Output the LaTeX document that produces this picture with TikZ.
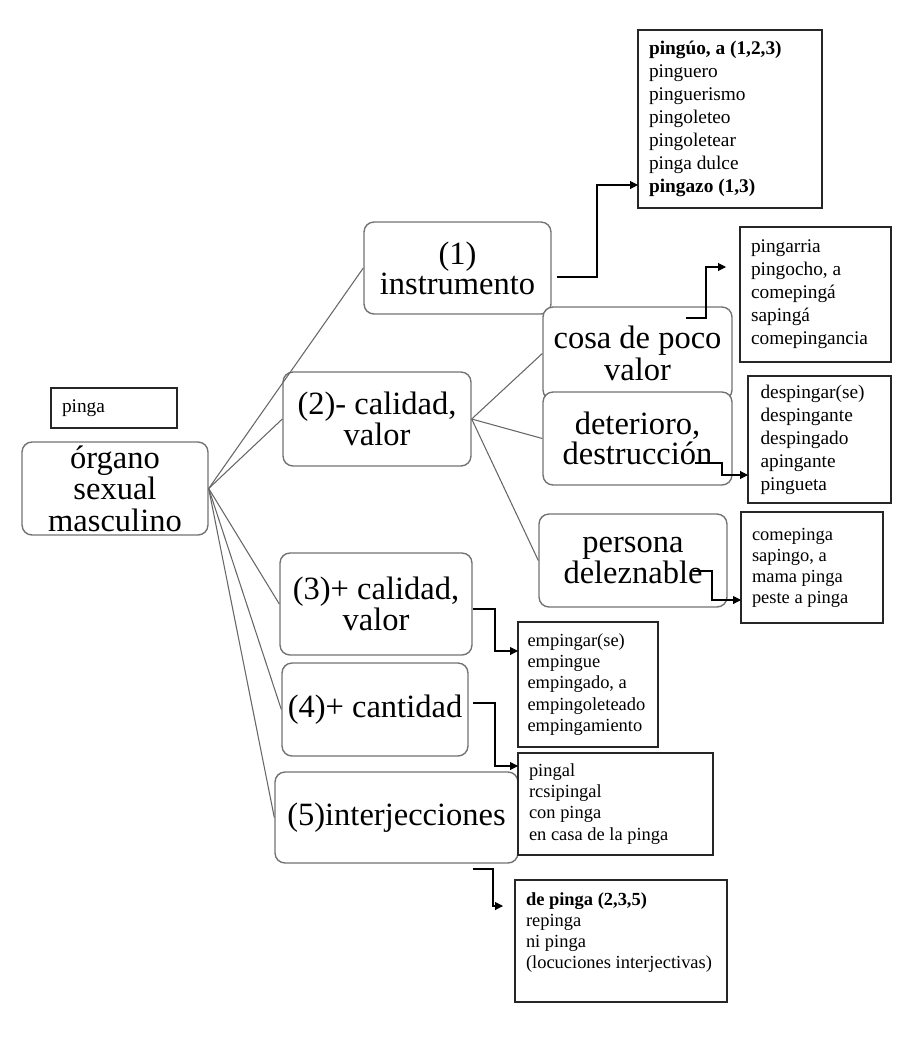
\documentclass[tikz,border=0pt]{standalone}
\usepackage{fontspec}
\setmainfont{Liberation Serif}
\usetikzlibrary{arrows.meta}

\tikzset{
  sense/.style={draw=black!55, line width=0.8pt, rounded corners=0.2cm, fill=white,
    align=center, inner sep=1pt, font=\fontsize{18.5}{18}\selectfont},
  words/.style={draw=black!85, line width=0.7pt, fill=white, align=left,
    inner xsep=0.22cm, inner ysep=0pt, font=\fontsize{11}{13.1}\selectfont,
    execute at begin node={\spaceskip=0pt\xspaceskip=0pt}},
  small words/.style={words, font=\fontsize{10.5}{12}\selectfont},
  link/.style={draw=black!60, line width=0.6pt},
  elbow/.style={->, >={Triangle[length=4.5pt,width=4.5pt]}, line width=0.6pt},
}

\begin{document}
\begin{tikzpicture}[x=0.02cm, y=-0.02cm]
\useasboundingbox (0,0) rectangle (900,1052);

% central meaning
\node[sense, minimum width=3.72cm, minimum height=1.86cm] (root) at (115,488.5) {órgano\\sexual\\masculino};
\node[words, minimum width=2.52cm, minimum height=0.8cm, text width=2.08cm] (pinga) at (114,408) {pinga};

% senses
\node[sense, minimum width=3.74cm, minimum height=1.84cm, font=\fontsize{18.5}{16}\selectfont] (inst) at (457.5,268) {(1)\\instrumento};
\node[sense, minimum width=3.76cm, minimum height=1.88cm] (cval) at (377,419) {(2)- calidad,\\valor};
\node[sense, minimum width=3.78cm, minimum height=1.86cm] (cosa) at (637.5,353.5) {cosa de poco\\valor};
\node[sense, minimum width=3.78cm, minimum height=1.86cm, font=\fontsize{18.5}{14}\selectfont] (deter) at (637.5,438.5) {deterioro,\\destrucción};
\node[sense, minimum width=3.76cm, minimum height=1.86cm, font=\fontsize{18.5}{15.5}\selectfont] (persona) at (633,560.5) {persona\\deleznable};
\node[sense, minimum width=3.84cm, minimum height=2.04cm] (pval) at (376,604) {(3)+ calidad,\\valor};
\node[sense, minimum width=3.72cm, minimum height=1.86cm] (cant) at (375,709.5) {(4)+ cantidad};
\node[sense, minimum width=4.86cm, minimum height=1.82cm] (interj) at (396.5,817.5) {(5)interjecciones};

% derived words
\node[words, minimum width=3.68cm, minimum height=3.56cm, text width=3.24cm] (wInst) at (730,119) {\textbf{pingúo, a (1,2,3)}\\pinguero\\pinguerismo\\pingoleteo\\pingoletear\\pinga dulce\\\textbf{pingazo (1,3)}};
\node[words, minimum width=3.02cm, minimum height=2.70cm, text width=2.58cm] (wCosa) at (815.5,294.5) {pingarria\\pingocho, a\\comepingá\\sapingá\\comepingancia};
\node[words, minimum width=2.86cm, minimum height=2.54cm, text width=2.36cm] (wDeter) at (819.5,439.5) {despingar(se)\\despingante\\despingado\\apingante\\pingueta};
\node[small words, minimum width=2.84cm, minimum height=2.22cm, text width=2.40cm] (wPers) at (812,567.5) {comepinga\\sapingo, a\\mama pinga\\peste a pinga};
\node[small words, minimum width=2.80cm, minimum height=2.50cm, text width=2.42cm, inner xsep=0.19cm] (wPval) at (588,684.5) {empingar(se)\\empingue\\empingado, a\\empingoleteado\\empingamiento};
\node[small words, minimum width=3.90cm, minimum height=2.04cm, text width=3.46cm] (wCant) at (615.5,804) {pingal\\rcsipingal\\con pinga\\en casa de la pinga};
\node[small words, minimum width=4.24cm, minimum height=2.44cm, text width=3.80cm] (wInterj) at (621,941) {\textbf{de pinga (2,3,5)}\\repinga\\ni pinga\\(locuciones interjectivas)\\\mbox{}};

% tree lines
\foreach \n in {inst,cval,pval,cant,interj}
  \draw[link] (root.east) -- (\n.west);
\foreach \n in {cosa,deter,persona}
  \draw[link] (cval.east) -- (\n.west);

% arrows to the word lists
\coordinate (s1) at (557,277);  \coordinate (e1) at (638,185);
\coordinate (s2) at (686,318);  \coordinate (e2) at (726,267);
\coordinate (s3) at (695,463);  \coordinate (e3) at (748,475);
\coordinate (s4) at (693,571);  \coordinate (e4) at (741,600);
\coordinate (s5) at (473,609);  \coordinate (e5) at (518,651);
\coordinate (s6) at (473,703);  \coordinate (e6) at (518,766);
\coordinate (s7) at (473,869);  \coordinate (e7) at (503,906);

\draw[elbow] (s1) -- ++(40,0) |- (e1);
\draw[elbow] (s2) -- ++(20,0) |- (e2);
\draw[elbow] (s3) -- ++(27,0) |- (e3);
\draw[elbow] (s4) -- ++(19,0) |- (e4);
\draw[elbow] (s5) -- ++(22,0) |- (e5);
\draw[elbow] (s6) -- ++(22,0) |- (e6);
\draw[elbow] (s7) -- ++(20,0) |- (e7);

\end{tikzpicture}
\end{document}
